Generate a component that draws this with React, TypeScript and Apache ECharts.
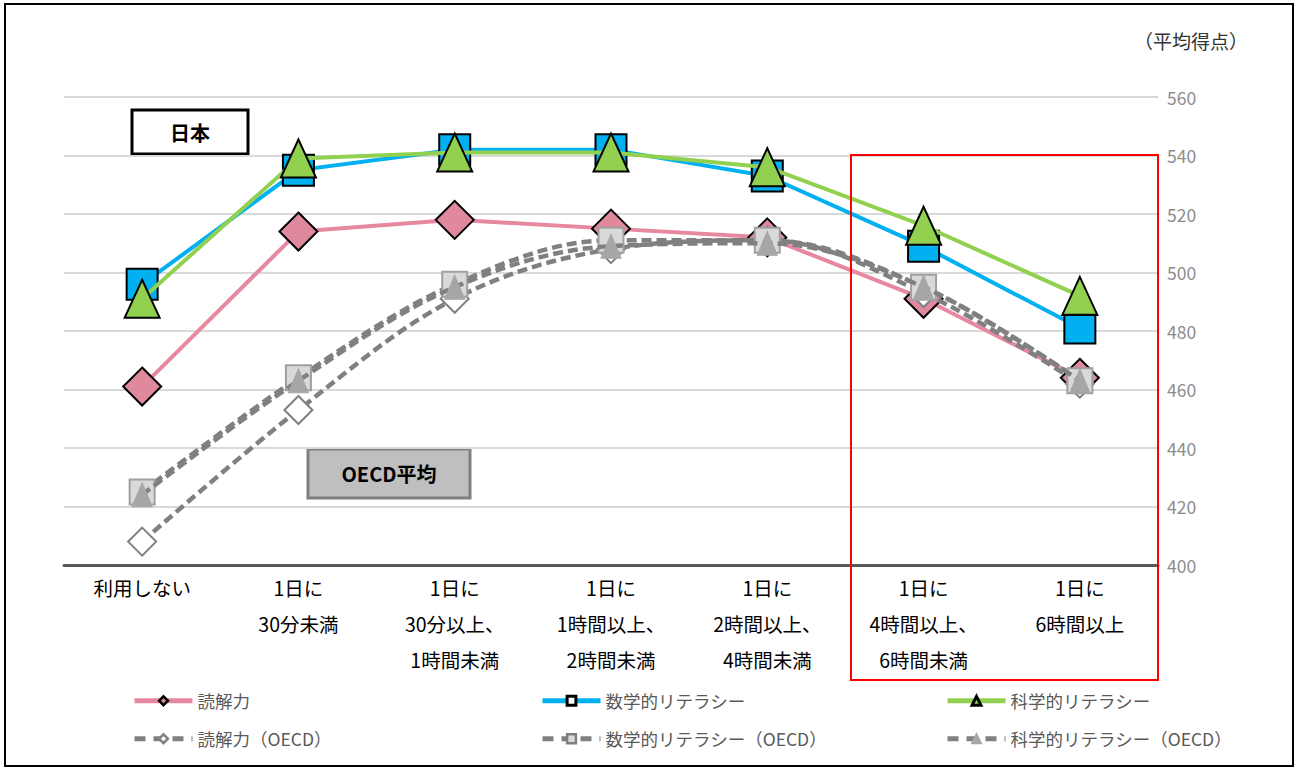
import React, { useEffect, useRef } from "react";
import * as echarts from "echarts";

const categories = [
  "利用しない",
  "1日に\n30分未満",
  "1日に\n30分以上、\n1時間未満",
  "1日に\n1時間以上、\n2時間未満",
  "1日に\n2時間以上、\n4時間未満",
  "1日に\n4時間以上、\n6時間未満",
  "1日に\n6時間以上",
];

const readingJP = [461, 514, 518, 515, 512, 491, 464];
const mathJP = [496, 535, 542, 542, 533, 509, 481];
const scienceJP = [491, 539, 541, 541, 536, 516, 492];
const readingOECD = [408, 453, 491, 508, 511, 493, 462];
const mathOECD = [425, 464, 496, 511, 511, 495, 463];
const scienceOECD = [424, 463, 495, 509, 510, 495, 463];

const seriesNames = [
  "読解力",
  "数学的リテラシー",
  "科学的リテラシー",
  "読解力（OECD）",
  "数学的リテラシー（OECD）",
  "科学的リテラシー（OECD）",
];

const yTicks = { min: 400, max: 560, interval: 20 };
const unitLabel = "（平均得点）";
const FONT = "'Noto Sans CJK JP', 'Noto Sans', sans-serif";

export default function App() {
  const ref = useRef<HTMLDivElement>(null);

  useEffect(() => {
    if (!ref.current) return;
    const chart = echarts.init(ref.current, undefined, { renderer: "svg" });

    const oecdLine = {
      color: "#808080",
      width: 4.5,
      type: [10, 5] as any,
    };

    const legendPos = [
      { left: 132, top: 692 },
      { left: 540, top: 692 },
      { left: 945, top: 692 },
      { left: 132, top: 730 },
      { left: 540, top: 730 },
      { left: 945, top: 730 },
    ];

    const legendItemStyles = [
      { itemStyle: { color: "#e0899d", borderColor: "#000", borderWidth: 2.5 }, lineStyle: { width: 5 } },
      { itemStyle: { color: "#ffffff", borderColor: "#000", borderWidth: 3 }, lineStyle: { width: 5 } },
      { itemStyle: { color: "#92d050", borderColor: "#000", borderWidth: 3 }, lineStyle: { width: 5 } },
      { itemStyle: { color: "#ffffff", borderColor: "#808080", borderWidth: 2.5 }, lineStyle: { width: 5, type: [11, 8] } },
      { itemStyle: { color: "#d9d9d9", borderColor: "#808080", borderWidth: 2.5 }, lineStyle: { width: 5, type: [11, 8] } },
      { itemStyle: { color: "#a6a6a6", borderColor: "#a6a6a6", borderWidth: 2 }, lineStyle: { width: 5, type: [11, 8] } },
    ];

    const option: any = {
      animation: false,
      backgroundColor: "#ffffff",
      textStyle: { fontFamily: FONT },
      grid: { left: 64, right: 140, top: 97, bottom: 204 },
      legend: seriesNames.map((n, i) => ({
        data: [{ name: n, ...legendItemStyles[i] }],
        left: legendPos[i].left,
        top: legendPos[i].top,
        padding: 0,
        itemWidth: 58,
        itemHeight: 11,
        itemGap: 5,
        textStyle: { fontSize: 17.5, color: "#595959", fontFamily: FONT },
        selectedMode: false,
      })),
      xAxis: {
        type: "category",
        data: categories,
        boundaryGap: true,
        axisLine: { show: true, lineStyle: { color: "#595959", width: 3 } },
        axisTick: { show: false },
        axisLabel: {
          color: "#000000",
          fontSize: 19.5,
          lineHeight: 36,
          margin: 4,
          interval: 0,
          fontFamily: FONT,
        },
        splitLine: { show: false },
      },
      yAxis: {
        type: "value",
        position: "right",
        min: yTicks.min,
        max: yTicks.max,
        interval: yTicks.interval,
        axisLine: { show: false },
        axisTick: { show: false },
        axisLabel: { color: "#8c8c8c", fontSize: 17.5, margin: 9, fontFamily: FONT },
        splitLine: { show: true, lineStyle: { color: "#d9d9d9", width: 2 } },
      },
      graphic: [
        {
          type: "rect",
          shape: { x: 5, y: 4, width: 1288, height: 762 },
          style: { fill: "none", stroke: "#000000", lineWidth: 2 },
          silent: true,
        },
        {
          type: "text",
          left: 1134,
          top: 31,
          style: { text: unitLabel, fontSize: 19, fill: "#333333", fontFamily: FONT },
        },
        {
          type: "rect",
          shape: { x: 132, y: 110, width: 116, height: 44 },
          style: { fill: "#ffffff", stroke: "#000000", lineWidth: 3 },
        },
        {
          type: "text",
          x: 190,
          y: 132,
          style: {
            text: "日本",
            fontSize: 20,
            fontWeight: "bold",
            fill: "#000000",
            align: "center",
            verticalAlign: "middle",
            fontFamily: FONT,
          },
        },
        {
          type: "rect",
          shape: { x: 308, y: 449, width: 162, height: 49 },
          style: { fill: "#bfbfbf", stroke: "#7f7f7f", lineWidth: 3 },
        },
        {
          type: "text",
          x: 389,
          y: 473,
          style: {
            text: "OECD平均",
            fontSize: 20,
            fontWeight: "bold",
            fill: "#000000",
            align: "center",
            verticalAlign: "middle",
            fontFamily: FONT,
          },
        },
        {
          type: "rect",
          shape: { x: 851, y: 155, width: 307, height: 525 },
          style: { fill: "none", stroke: "#ff0000", lineWidth: 2 },
          z: 10,
        },
      ],
      series: [
        {
          name: seriesNames[0],
          type: "line",
          data: readingJP,
          symbol: "diamond",
          symbolSize: 38,
          lineStyle: { color: "#e6889f", width: 4 },
          itemStyle: { color: "#e0899d", borderColor: "#000000", borderWidth: 2 },
          z: 2,
        },
        {
          name: seriesNames[1],
          type: "line",
          data: mathJP,
          symbol: "rect",
          symbolSize: 31,
          lineStyle: { color: "#00b0f0", width: 4 },
          itemStyle: { color: "#00b0f0", borderColor: "#000000", borderWidth: 2 },
          z: 3,
        },
        {
          name: seriesNames[2],
          type: "line",
          data: scienceJP,
          symbol: "triangle",
          symbolSize: [35, 38],
          lineStyle: { color: "#92d050", width: 4 },
          itemStyle: { color: "#92d050", borderColor: "#000000", borderWidth: 2 },
          z: 4,
        },
        {
          name: seriesNames[3],
          type: "line",
          data: readingOECD,
          smooth: 0.35,
          symbol: "diamond",
          symbolSize: 28,
          lineStyle: oecdLine,
          itemStyle: { color: "#ffffff", borderColor: "#808080", borderWidth: 2 },
          z: 5,
        },
        {
          name: seriesNames[4],
          type: "line",
          data: mathOECD,
          smooth: 0.35,
          symbol: "rect",
          symbolSize: 25,
          lineStyle: oecdLine,
          itemStyle: { color: "#d9d9d9", borderColor: "#a0a0a0", borderWidth: 2 },
          z: 6,
        },
        {
          name: seriesNames[5],
          type: "line",
          data: scienceOECD,
          smooth: 0.35,
          symbol: "triangle",
          symbolSize: [20, 24],
          lineStyle: oecdLine,
          itemStyle: { color: "#a6a6a6", borderColor: "#a6a6a6", borderWidth: 1 },
          z: 7,
        },
      ],
    };

    chart.setOption(option);
    return () => chart.dispose();
  }, []);

  return (
    <div
      style={{
        position: "absolute",
        left: 0,
        top: 0,
        width: 1298,
        height: 769,
        background: "#ffffff",
      }}
    >
      <div ref={ref} style={{ width: 1298, height: 769 }} />
    </div>
  );
}
